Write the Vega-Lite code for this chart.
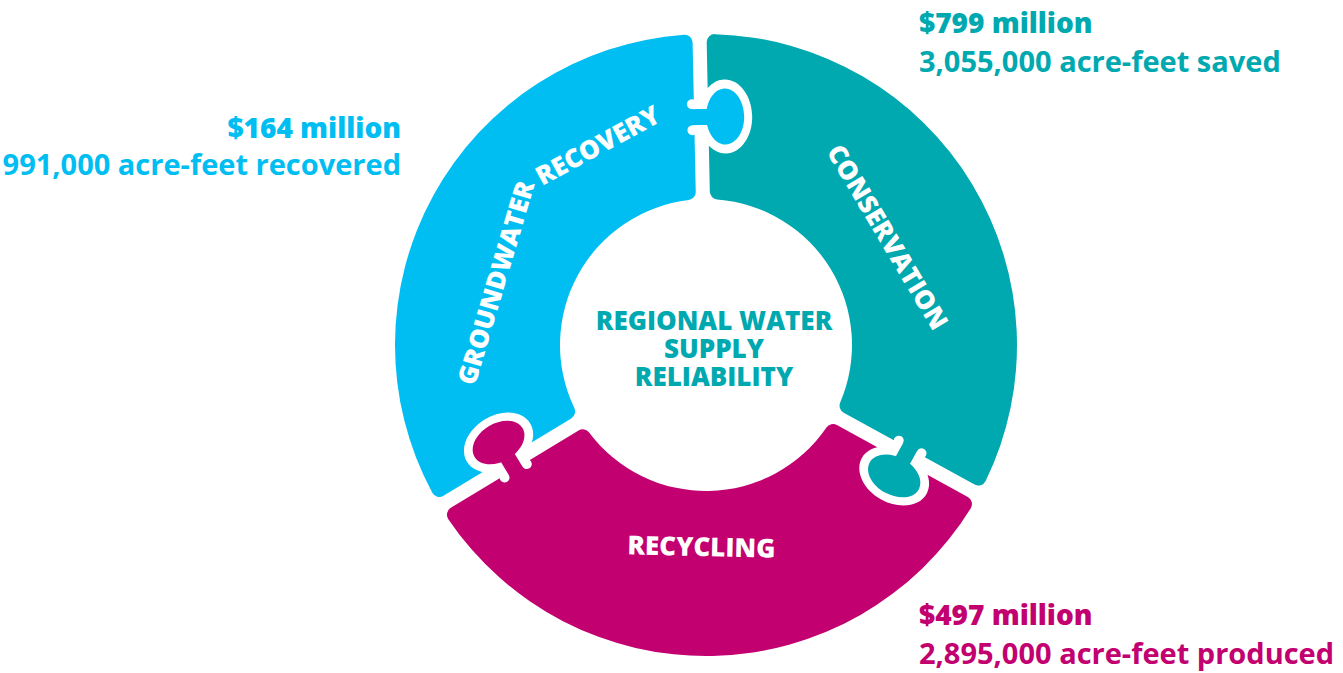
{
  "$schema": "https://vega.github.io/schema/vega-lite/v6.json",
  "width": 1343,
  "height": 673,
  "autosize": {"type": "fit", "contains": "padding"},
  "padding": 0,
  "background": "white",
  "config": {"view": {"stroke": null}, "font": "Open Sans"},
  "data": {
    "values": [
      {"piece": "CONSERVATION", "order": 1, "share": 1, "amount": "$799 million", "volume": "3,055,000 acre-feet saved"},
      {"piece": "RECYCLING", "order": 2, "share": 1, "amount": "$497 million", "volume": "2,895,000 acre-feet produced"},
      {"piece": "GROUNDWATER RECOVERY", "order": 3, "share": 1, "amount": "$164 million", "volume": "991,000 acre-feet recovered", "word1": "GROUNDWATER", "word2": "RECOVERY"}
    ]
  },
  "encoding": {
    "x": {"type": "quantitative", "scale": {"domain": [0, 1343], "nice": false, "zero": false}, "axis": null},
    "y": {"type": "quantitative", "scale": {"domain": [0, 673], "nice": false, "zero": false, "reverse": true}, "axis": null},
    "color": {"field": "piece", "type": "nominal", "scale": {"domain": ["CONSERVATION", "RECYCLING", "GROUNDWATER RECOVERY"], "range": ["#00A8AF", "#C2006F", "#00BEF2"]}, "legend": null}
  },
  "layer": [
    {
      "mark": {"type": "arc", "outerRadius": 311, "innerRadius": 146, "padAngle": 0.041, "cornerRadius": 8},
      "encoding": {
        "theta": {"field": "share", "type": "quantitative", "stack": true, "scale": {"range": [-0.021, 6.2622]}},
        "order": {"field": "order", "type": "quantitative"},
        "x": {"datum": 706, "type": "quantitative"},
        "y": {"datum": 345, "type": "quantitative"}
      }
    },
    {
      "transform": [{"filter": "datum.piece == 'GROUNDWATER RECOVERY'"}],
      "encoding": {"x": {"datum": 701.2, "type": "quantitative"}, "y": {"datum": 117, "type": "quantitative"}},
      "layer": [
        {"mark": {"type": "point", "shape": "M-3 0A27 37 0 1 1 51 0A27 37 0 1 1 -3 0ZM-14 -13A5 5 0 1 1 -4 -13A5 5 0 1 1 -14 -13ZM-14 13A5 5 0 1 1 -4 13A5 5 0 1 1 -14 13ZM-9 -13L0 -13L0 13L-9 13Z", "size": 4, "filled": true, "fill": "white", "opacity": 1, "strokeWidth": 0, "angle": -1.2}},
        {"mark": {"type": "point", "shape": "M5 0A19 28 0 1 1 43 0A19 28 0 1 1 5 0ZM-12 -8L10 -8L10 8L-12 8Z", "size": 4, "filled": true, "opacity": 1, "strokeWidth": 0, "angle": -1.2}}
      ]
    },
    {
      "transform": [{"filter": "datum.piece == 'CONSERVATION'"}],
      "encoding": {"x": {"datum": 905.8, "type": "quantitative"}, "y": {"datum": 454.9, "type": "quantitative"}},
      "layer": [
        {"mark": {"type": "point", "shape": "M-3 0A27 37 0 1 1 51 0A27 37 0 1 1 -3 0ZM-14 -13A5 5 0 1 1 -4 -13A5 5 0 1 1 -14 -13ZM-14 13A5 5 0 1 1 -4 13A5 5 0 1 1 -14 13ZM-9 -13L0 -13L0 13L-9 13Z", "size": 4, "filled": true, "fill": "white", "opacity": 1, "strokeWidth": 0, "angle": 118.8}},
        {"mark": {"type": "point", "shape": "M5 0A19 28 0 1 1 43 0A19 28 0 1 1 5 0ZM-12 -8L10 -8L10 8L-12 8Z", "size": 4, "filled": true, "opacity": 1, "strokeWidth": 0, "angle": 118.8}}
      ]
    },
    {
      "transform": [{"filter": "datum.piece == 'RECYCLING'"}],
      "encoding": {"x": {"datum": 511.0, "type": "quantitative"}, "y": {"datum": 463.1, "type": "quantitative"}},
      "layer": [
        {"mark": {"type": "point", "shape": "M-3 0A27 37 0 1 1 51 0A27 37 0 1 1 -3 0ZM-14 -13A5 5 0 1 1 -4 -13A5 5 0 1 1 -14 -13ZM-14 13A5 5 0 1 1 -4 13A5 5 0 1 1 -14 13ZM-9 -13L0 -13L0 13L-9 13Z", "size": 4, "filled": true, "fill": "white", "opacity": 1, "strokeWidth": 0, "angle": 238.8}},
        {"mark": {"type": "point", "shape": "M5 0A19 28 0 1 1 43 0A19 28 0 1 1 5 0ZM-12 -8L10 -8L10 8L-12 8Z", "size": 4, "filled": true, "opacity": 1, "strokeWidth": 0, "angle": 238.8}}
      ]
    },
    {
      "transform": [{"filter": "datum.order == 1"}],
      "mark": {"type": "text", "text": "REGIONAL WATER\nSUPPLY\nRELIABILITY", "lineBreak": "\n", "fontSize": 26, "fontWeight": 800, "lineHeight": 28, "align": "center", "baseline": "alphabetic"},
      "encoding": {"x": {"datum": 714, "type": "quantitative"}, "y": {"datum": 330, "type": "quantitative"}, "color": {"value": "#00A8AF"}}
    },
    {
      "transform": [{"filter": "datum.piece == 'CONSERVATION'"}],
      "mark": {"type": "text", "fontSize": 26, "fontWeight": 800, "align": "center", "baseline": "middle", "angle": 59.25},
      "encoding": {"text": {"field": "piece"}, "x": {"datum": 886.5, "type": "quantitative"}, "y": {"datum": 237.6, "type": "quantitative"}, "color": {"value": "white"}}
    },
    {
      "transform": [{"filter": "datum.piece == 'GROUNDWATER RECOVERY'"}],
      "mark": {"type": "text", "fontSize": 26, "fontWeight": 800, "align": "center", "baseline": "middle", "angle": -73.5},
      "encoding": {"text": {"field": "word1"}, "x": {"datum": 497.0, "type": "quantitative"}, "y": {"datum": 283.1, "type": "quantitative"}, "color": {"value": "white"}}
    },
    {
      "transform": [{"filter": "datum.piece == 'GROUNDWATER RECOVERY'"}],
      "mark": {"type": "text", "fontSize": 26, "fontWeight": 800, "align": "center", "baseline": "middle", "angle": -28.5},
      "encoding": {"text": {"field": "word2"}, "x": {"datum": 598.2, "type": "quantitative"}, "y": {"datum": 146.4, "type": "quantitative"}, "color": {"value": "white"}}
    },
    {
      "transform": [{"filter": "datum.piece == 'RECYCLING'"}],
      "mark": {"type": "text", "fontSize": 26, "fontWeight": 800, "align": "center", "baseline": "middle", "angle": 1.3},
      "encoding": {"text": {"field": "piece"}, "x": {"datum": 701.4, "type": "quantitative"}, "y": {"datum": 548, "type": "quantitative"}, "color": {"value": "white"}}
    },
    {
      "transform": [{"filter": "datum.piece == 'CONSERVATION'"}],
      "mark": {"type": "text", "fontSize": 28, "fontWeight": 800, "align": "left", "baseline": "alphabetic"},
      "encoding": {"text": {"field": "amount"}, "x": {"datum": 919, "type": "quantitative"}, "y": {"datum": 33, "type": "quantitative"}}
    },
    {
      "transform": [{"filter": "datum.piece == 'CONSERVATION'"}],
      "mark": {"type": "text", "fontSize": 29, "fontWeight": 700, "align": "left", "baseline": "alphabetic"},
      "encoding": {"text": {"field": "volume"}, "x": {"datum": 919, "type": "quantitative"}, "y": {"datum": 72, "type": "quantitative"}}
    },
    {
      "transform": [{"filter": "datum.piece == 'GROUNDWATER RECOVERY'"}],
      "mark": {"type": "text", "fontSize": 28, "fontWeight": 800, "align": "right", "baseline": "alphabetic"},
      "encoding": {"text": {"field": "amount"}, "x": {"datum": 401, "type": "quantitative"}, "y": {"datum": 138, "type": "quantitative"}}
    },
    {
      "transform": [{"filter": "datum.piece == 'GROUNDWATER RECOVERY'"}],
      "mark": {"type": "text", "fontSize": 29, "fontWeight": 700, "align": "right", "baseline": "alphabetic"},
      "encoding": {"text": {"field": "volume"}, "x": {"datum": 401, "type": "quantitative"}, "y": {"datum": 175, "type": "quantitative"}}
    },
    {
      "transform": [{"filter": "datum.piece == 'RECYCLING'"}],
      "mark": {"type": "text", "fontSize": 28, "fontWeight": 800, "align": "left", "baseline": "alphabetic"},
      "encoding": {"text": {"field": "amount"}, "x": {"datum": 919, "type": "quantitative"}, "y": {"datum": 625, "type": "quantitative"}}
    },
    {
      "transform": [{"filter": "datum.piece == 'RECYCLING'"}],
      "mark": {"type": "text", "fontSize": 29, "fontWeight": 700, "align": "left", "baseline": "alphabetic"},
      "encoding": {"text": {"field": "volume"}, "x": {"datum": 919, "type": "quantitative"}, "y": {"datum": 664, "type": "quantitative"}}
    }
  ]
}
